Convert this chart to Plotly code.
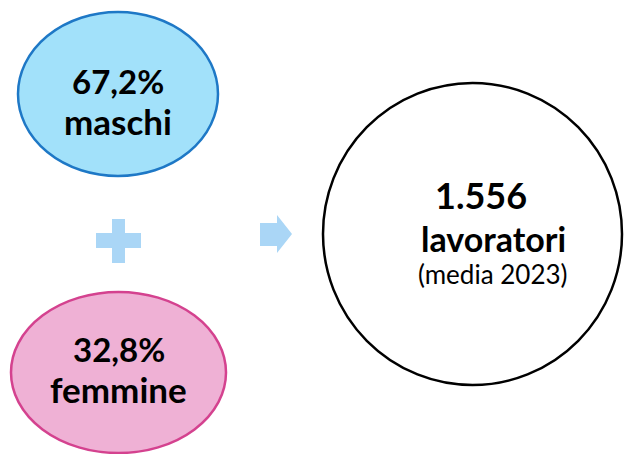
import plotly.graph_objects as go

# data
genders = ["maschi", "femmine"]
shares = [67.2, 32.8]
total_workers = 1556
year = 2023

W, H = 627, 454
FONT = "Lato"


def it_pct(v):
    return f"{v:.1f}".replace(".", ",") + "%"


def it_int(v):
    return f"{v:,}".replace(",", ".")


# bubble geometry (pixels): x0, y0, x1, y1, fill, border, text y (pct, label)
bubbles = [
    (18, 12, 218, 176, "#A2E1FA", "#1E78C6", (81, 121)),
    (11, 292, 226, 453, "#EFB1D5", "#D4428F", (349, 389)),
]

fig = go.Figure()

shapes = []
annotations = []
for (x0, y0, x1, y1, fill, line, ty), g, s in zip(bubbles, genders, shares):
    shapes.append(dict(type="circle", xref="x", yref="y", x0=x0, y0=y0, x1=x1, y1=y1,
                       fillcolor=fill, line=dict(color=line, width=2.5), layer="below"))
    cx = (x0 + x1) / 2
    annotations.append(dict(x=cx, y=ty[0], text=f"<b>{it_pct(s)}</b>", showarrow=False,
                            font=dict(family=FONT, size=33, color="black")))
    annotations.append(dict(x=cx, y=ty[1], text=f"<b>{g}</b>", showarrow=False,
                            font=dict(family=FONT, size=35, color="black")))

# total circle
shapes.append(dict(type="circle", xref="x", yref="y", x0=323, y0=83, x1=622, y1=385,
                   fillcolor="white", line=dict(color="black", width=2.5), layer="below"))

# plus sign
shapes.append(dict(type="path", xref="x", yref="y",
                   path="M112,219 L125,219 L125,233 L141,233 L141,248 L125,248 L125,263 "
                        "L112,263 L112,248 L96,248 L96,233 L112,233 Z",
                   fillcolor="#AAD6F6", line=dict(width=0)))

# arrow
shapes.append(dict(type="path", xref="x", yref="y",
                   path="M260,223 L277,223 L277,215 L292,234 L277,253 L277,246 L260,246 Z",
                   fillcolor="#AAD6F6", line=dict(width=0)))

annotations.append(dict(x=481, y=195, text=f"<b>{it_int(total_workers)}</b>", showarrow=False,
                        font=dict(family=FONT, size=36, color="black")))
annotations.append(dict(x=493, y=238, text="<b>lavoratori</b>", showarrow=False,
                        font=dict(family=FONT, size=34, color="black")))
annotations.append(dict(x=493, y=274, text=f"(media {year})", showarrow=False,
                        font=dict(family=FONT, size=26, color="black")))

fig.update_layout(
    width=W, height=H,
    margin=dict(l=0, r=0, t=0, b=0),
    paper_bgcolor="white", plot_bgcolor="white",
    shapes=shapes, annotations=annotations,
    showlegend=False,
    xaxis=dict(range=[0, W], visible=False, fixedrange=True),
    yaxis=dict(range=[H, 0], visible=False, fixedrange=True),
)

fig.write_html("out.html", config={"displayModeBar": False},
               post_script="document.body.style.margin='0';")
